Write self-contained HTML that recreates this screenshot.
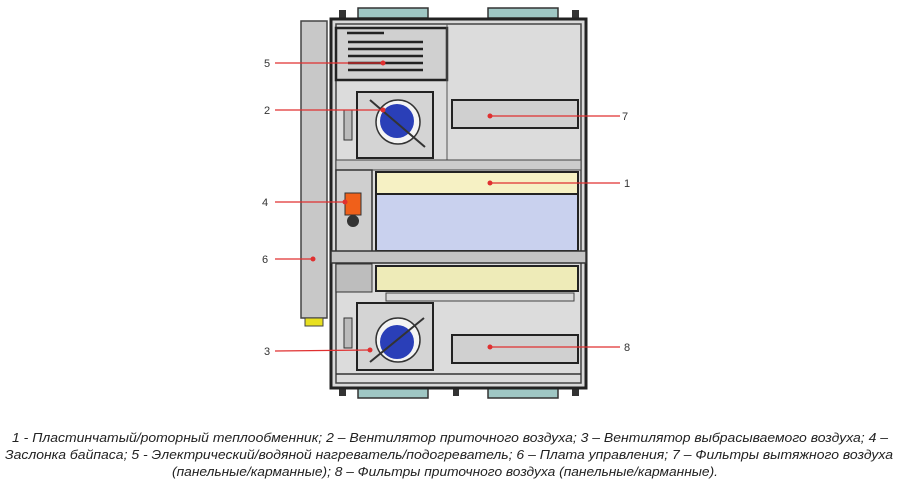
<!DOCTYPE html>
<html><head><meta charset="utf-8"><style>
html,body{margin:0;padding:0;background:#fff;}
svg{display:block;}
</style></head><body>
<svg width="900" height="490" viewBox="0 0 900 490" xmlns="http://www.w3.org/2000/svg">
<!-- spigots -->
<g fill="#9fc7c4" stroke="#333" stroke-width="1.5">
<rect x="358" y="8" width="70" height="10"/>
<rect x="488" y="8" width="70" height="10"/>
<rect x="358" y="388" width="70" height="10"/>
<rect x="488" y="388" width="70" height="10"/>
</g>
<g fill="#333">
<rect x="339" y="10" width="7" height="9"/><rect x="572" y="10" width="7" height="9"/>
<rect x="339" y="387" width="7" height="9"/><rect x="572" y="387" width="7" height="9"/>
<rect x="453" y="388" width="6" height="8"/>
</g>
<!-- main body -->
<rect x="331" y="19" width="255" height="369" fill="#d9d9d9" stroke="#222" stroke-width="3"/>
<rect x="336" y="24" width="245" height="359" fill="#dcdcdc" stroke="#444" stroke-width="1.5"/>
<!-- side panel -->
<rect x="301" y="21" width="26" height="297" fill="#c8c8c8" stroke="#444" stroke-width="1.5"/>
<rect x="305" y="318" width="18" height="8" fill="#e8e020" stroke="#444"/>
<!-- heater box -->
<rect x="336" y="28" width="111" height="52" fill="#d0d0d0" stroke="#222" stroke-width="2.5"/>
<g stroke="#222" stroke-width="2.5">
<line x1="347" y1="33" x2="384" y2="33"/>
<line x1="348" y1="42" x2="423" y2="42"/>
<line x1="348" y1="49" x2="423" y2="49"/>
<line x1="348" y1="56" x2="423" y2="56"/>
<line x1="348" y1="63" x2="423" y2="63"/>
<line x1="348" y1="70" x2="423" y2="70"/>
</g>
<line x1="447" y1="24" x2="447" y2="160" stroke="#555" stroke-width="1"/>
<!-- fan box upper -->
<rect x="357" y="92" width="76" height="66" fill="#d4d4d4" stroke="#222" stroke-width="2"/>
<circle cx="398" cy="122" r="22" fill="#f4f4f4" stroke="#333" stroke-width="1.5"/>
<circle cx="397" cy="121" r="17" fill="#2a3fb8"/>
<line x1="370" y1="100" x2="425" y2="147" stroke="#333" stroke-width="2"/>
<rect x="344" y="110" width="8" height="30" fill="#bbb" stroke="#333"/>
<!-- filter 7 -->
<rect x="452" y="100" width="126" height="28" fill="#d0d0d0" stroke="#222" stroke-width="2"/>
<!-- divider -->
<rect x="336" y="160" width="245" height="10" fill="#ccc" stroke="#444"/>
<!-- bypass box -->
<rect x="336" y="170" width="36" height="85" fill="#cfcfcf" stroke="#333" stroke-width="1.5"/>
<rect x="345" y="193" width="16" height="22" fill="#f0601a" stroke="#333"/>
<circle cx="353" cy="221" r="6" fill="#333"/>
<!-- exchanger -->
<rect x="376" y="172" width="202" height="22" fill="#f6f1c4" stroke="#222" stroke-width="2"/>
<rect x="376" y="194" width="202" height="57" fill="#c9d1ee" stroke="#222" stroke-width="2"/>
<rect x="331" y="251" width="255" height="12" fill="#c4c4c4" stroke="#333" stroke-width="1.5"/>
<rect x="336" y="264" width="36" height="28" fill="#bdbdbd" stroke="#333"/>
<rect x="376" y="266" width="202" height="25" fill="#eeebb8" stroke="#222" stroke-width="2"/>
<rect x="386" y="293" width="188" height="8" fill="#d8d8d8" stroke="#444"/>
<!-- fan box lower -->
<rect x="357" y="303" width="76" height="67" fill="#d4d4d4" stroke="#222" stroke-width="2"/>
<circle cx="398" cy="340" r="22" fill="#f4f4f4" stroke="#333" stroke-width="1.5"/>
<circle cx="397" cy="342" r="17" fill="#2a3fb8"/>
<line x1="370" y1="362" x2="424" y2="318" stroke="#333" stroke-width="2"/>
<rect x="344" y="318" width="8" height="30" fill="#bbb" stroke="#333"/>
<!-- filter 8 -->
<rect x="452" y="335" width="126" height="28" fill="#d0d0d0" stroke="#222" stroke-width="2"/>
<line x1="336" y1="374" x2="581" y2="374" stroke="#333" stroke-width="1.5"/>
<!-- leaders -->
<g stroke="#e03030" stroke-width="1.2">
<line x1="275" y1="63" x2="383" y2="63"/>
<line x1="275" y1="110" x2="383" y2="110"/>
<line x1="275" y1="202" x2="345" y2="202"/>
<line x1="275" y1="259" x2="313" y2="259"/>
<line x1="275" y1="351" x2="370" y2="350"/>
<line x1="490" y1="116" x2="620" y2="116"/>
<line x1="490" y1="183" x2="620" y2="183"/>
<line x1="490" y1="347" x2="620" y2="347"/>
</g>
<g fill="#e03030">
<circle cx="383" cy="63" r="2.5"/><circle cx="383" cy="110" r="2.5"/><circle cx="345" cy="202" r="2.5"/>
<circle cx="313" cy="259" r="2.5"/><circle cx="370" cy="350" r="2.5"/><circle cx="490" cy="116" r="2.5"/>
<circle cx="490" cy="183" r="2.5"/><circle cx="490" cy="347" r="2.5"/>
</g>
<g font-family="Liberation Sans, sans-serif" font-size="11" fill="#333">
<text x="264" y="67">5</text><text x="264" y="114">2</text><text x="262" y="206">4</text>
<text x="262" y="263">6</text><text x="264" y="355">3</text><text x="622" y="120">7</text>
<text x="624" y="187">1</text><text x="624" y="351">8</text>
</g>
<g font-family="Liberation Sans, sans-serif" font-size="12.5" font-style="italic" fill="#222">
<text x="12" y="442" textLength="876" lengthAdjust="spacingAndGlyphs">1 - Пластинчатый/роторный теплообменник; 2 – Вентилятор приточного воздуха; 3 – Вентилятор выбрасываемого воздуха; 4 –</text>
<text x="5" y="459" textLength="888" lengthAdjust="spacingAndGlyphs">Заслонка байпаса; 5 - Электрический/водяной нагреватель/подогреватель; 6 – Плата управления; 7 – Фильтры вытяжного воздуха</text>
<text x="172" y="476" textLength="546" lengthAdjust="spacingAndGlyphs">(панельные/карманные); 8 – Фильтры приточного воздуха (панельные/карманные).</text>
</g>
</svg>
</body></html>
